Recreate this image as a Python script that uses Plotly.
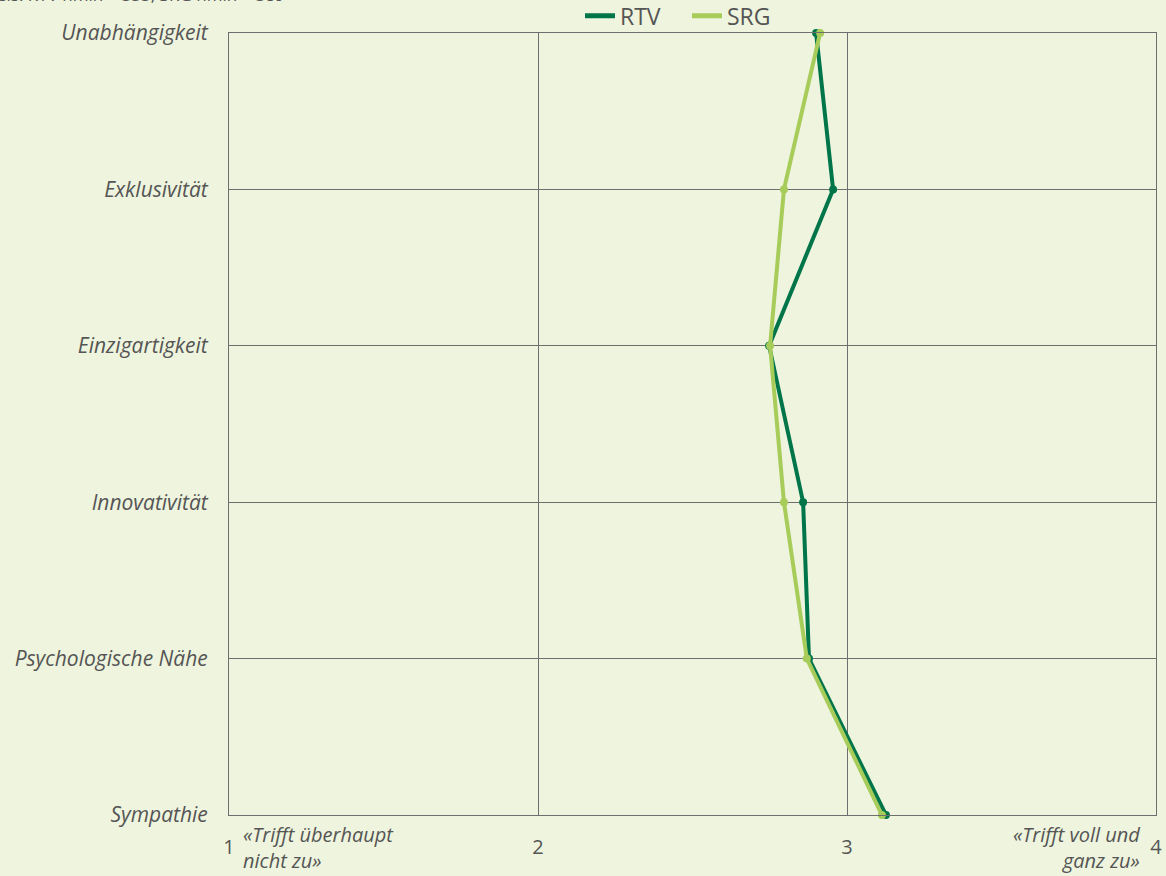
import plotly.graph_objects as go

categories = ["Unabhängigkeit", "Exklusivität", "Einzigartigkeit", "Innovativität", "Psychologische Nähe", "Sympathie"]
rtv_values = [2.90, 2.955, 2.748, 2.858, 2.877, 3.126]
srg_values = [2.913, 2.796, 2.751, 2.796, 2.870, 3.113]
x_ticks = [1, 2, 3, 4]
note_text = "Basis: RTV nmin = 333, SRG nmin = 389"
low_label = "«Trifft überhaupt<br>nicht zu»"
high_label = "«Trifft voll und<br>ganz zu»"

BG = "#EEF4DD"
GRID = "#6E6E6E"
TXT = "#555555"
FONT = "Open Sans"
C_RTV = "#00754A"
C_SRG = "#A8CC5A"

fig = go.Figure()
for name, vals, col in [("RTV", rtv_values, C_RTV), ("SRG", srg_values, C_SRG)]:
    fig.add_trace(go.Scatter(x=vals, y=categories, mode="lines+markers", name=name,
                             line=dict(color=col, width=4), marker=dict(size=8, color=col),
                             cliponaxis=False, showlegend=False))
for name, col in [("RTV", C_RTV), ("SRG", C_SRG)]:
    fig.add_trace(go.Scatter(x=[None], y=[None], mode="lines", name=name,
                             line=dict(color=col, width=5), showlegend=True))

fig.update_layout(
    width=1166, height=876,
    paper_bgcolor=BG, plot_bgcolor=BG,
    margin=dict(l=229, r=10, t=33, b=61, autoexpand=False),
    font=dict(family=FONT, color=TXT, size=20),
    legend=dict(orientation="h", x=(580 - 229) / 927, xanchor="left", y=1.022, yanchor="middle",
                font=dict(size=23, color=TXT), bgcolor="rgba(0,0,0,0)",
                traceorder="normal", entrywidth=62),
    xaxis=dict(range=[1, 4], tickvals=x_ticks, ticktext=[str(v) for v in x_ticks],
               showgrid=True, gridcolor=GRID, gridwidth=1, zeroline=False,
               showline=True, linecolor=GRID, linewidth=1, mirror=True,
               tickfont=dict(size=20, color=TXT), ticks="", ticklabelstandoff=14),
    yaxis=dict(type="category", categoryorder="array", categoryarray=categories,
               range=[5, 0], showgrid=True, gridcolor=GRID, gridwidth=1,
               showline=True, linecolor=GRID, linewidth=1, mirror=True,
               tickfont=dict(size=21, color=TXT, style="italic"), ticks="",
               ticklabelstandoff=16),
)

fig.add_annotation(x=1, y=0, xref="x", yref="paper", yshift=-32, xshift=12,
                   text=low_label, showarrow=False, xanchor="left", yanchor="middle",
                   align="left", font=dict(size=20, color=TXT, style="italic"))
fig.add_annotation(x=4, y=0, xref="x", yref="paper", yshift=-32, xshift=-14,
                   text=high_label, showarrow=False, xanchor="right", yanchor="middle",
                   align="right", font=dict(size=20, color=TXT, style="italic"))
fig.add_annotation(x=(287 - 229) / 927, y=1.0, xref="paper", yref="paper", yshift=39,
                   text=note_text, showarrow=False, xanchor="right", yanchor="middle",
                   font=dict(size=17, color=TXT))

fig.write_html("out.html", config={"displayModeBar": False},
               post_script="document.body.style.margin='0';document.body.style.overflow='hidden';")
